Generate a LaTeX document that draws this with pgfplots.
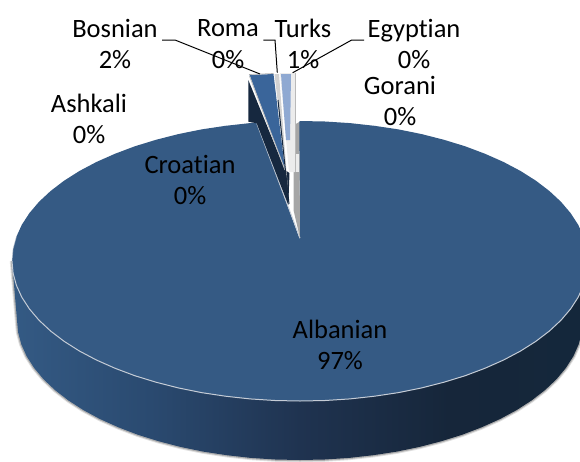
\documentclass[border=0pt]{standalone}
\usepackage{pgfplots}
\usepackage{pgfplotstable}
\usepackage{fontspec}
\setmainfont{Carlito}
\pgfplotsset{compat=1.18}
\definecolor{topc}{HTML}{355A84}
\definecolor{slice}{HTML}{3A659A}
\definecolor{darkc}{HTML}{16283F}
\definecolor{lightb}{HTML}{8FA9D2}
\definecolor{rim}{HTML}{C5CCD6}
\pgfdeclarehorizontalshading{wall}{100bp}{
 rgb(0bp)=(0.204,0.353,0.518);
 rgb(25bp)=(0.204,0.353,0.518);
 rgb(37bp)=(0.165,0.290,0.439);
 rgb(50bp)=(0.122,0.200,0.314);
 rgb(63bp)=(0.086,0.149,0.227);
 rgb(75bp)=(0.078,0.153,0.231);
 rgb(100bp)=(0.078,0.153,0.231)}
\pgfplotstableread{
x y
588 261
586.9 273.2
583.6 285.3
578.2 297.2
570.6 308.9
561 320.2
549.4 331
535.9 341.3
520.6 351
503.6 360
485.1 368.2
465.2 375.7
444 382.2
421.7 387.9
398.5 392.6
374.5 396.2
350 398.9
325.1 400.5
300 401
274.9 400.5
250 398.9
225.5 396.2
201.5 392.6
178.3 387.9
156 382.2
134.8 375.7
114.9 368.2
96.4 360
79.4 351
64.1 341.3
50.6 331
39 320.2
29.4 308.9
21.8 297.2
16.4 285.3
13.1 273.2
12 261
}\topfront
\pgfplotstableread{
x y
588 261
583 320
581.9 332.2
578.7 344.3
573.4 356.2
565.9 367.9
556.5 379.2
545.1 390
531.8 400.3
516.8 410
500.1 419
481.9 427.2
462.3 434.7
441.5 441.2
419.6 446.9
396.8 451.6
373.2 455.2
349.1 457.9
324.7 459.5
300 460
275.3 459.5
250.9 457.9
226.8 455.2
203.2 451.6
180.4 446.9
158.5 441.2
137.7 434.7
118.1 427.2
99.9 419
83.2 410
68.2 400.3
54.9 390
43.5 379.2
34.1 367.9
26.6 356.2
21.3 344.3
18.1 332.2
17 320
12 261
}\lowerfront
\begin{document}
\begin{tikzpicture}
\useasboundingbox (0,0) rectangle (580pt,461pt);
\begin{axis}[at={(0,0)},anchor=south west,width=580pt,height=461pt,scale only axis,
 xmin=0,xmax=580,ymin=0,ymax=461,y dir=reverse,hide axis,enlargelimits=false,
 every axis plot/.append style={no markers}]
% soft shadow
\addplot[black,opacity=0.12,line width=4.5pt] table {\lowerfront};
\addplot[black,opacity=0.22,line width=2.5pt] table {\lowerfront};
% wall
\addplot[shade,shading=wall,draw=none] table {\lowerfront} --cycle;
% top face of the Albanian slice
\addplot[fill=topc,draw=none] coordinates {
(300,240) (299,122) (300,121) (325.1,121.5) (350,123.1) (374.5,125.8) (398.5,129.4) (421.7,134.1) (444,139.8) (465.2,146.3) (485.1,153.8) (503.6,162) (520.6,171) (535.9,180.7) (549.4,191) (561,201.8) (570.6,213.1) (578.2,224.8) (583.6,236.7) (586.9,248.8) (588,261)
(586.9,273.2) (583.6,285.3) (578.2,297.2) (570.6,308.9) (561,320.2) (549.4,331) (535.9,341.3) (520.6,351) (503.6,360) (485.1,368.2) (465.2,375.7) (444,382.2) (421.7,387.9) (398.5,392.6) (374.5,396.2) (350,398.9) (325.1,400.5) (300,401) (274.9,400.5) (250,398.9) (225.5,396.2) (201.5,392.6) (178.3,387.9) (156,382.2) (134.8,375.7) (114.9,368.2) (96.4,360) (79.4,351) (64.1,341.3) (50.6,331) (39,320.2) (29.4,308.9) (21.8,297.2) (16.4,285.3) (13.1,273.2) (12,261)
(13.1,248.8) (16.4,236.7) (21.8,224.8) (29.4,213.1) (39,201.8) (50.6,191) (64.1,180.7) (79.4,171) (96.4,162) (114.9,153.8) (134.8,146.3) (156,139.8) (178.3,134.1) (201.5,129.4) (225.5,125.8) (250,123.1) (257,122.5)
} --cycle;
% rim
\addplot[rim,line width=1pt] table {\topfront};
\addplot[rim,opacity=0.5,line width=0.8pt] coordinates {(12,261) (13.1,248.8) (16.4,236.7)};
\addplot[rim,line width=0.9pt] coordinates {(256.7,123.3) (300,238)};
% grey inner wall
\addplot[fill=gray!70,draw=none] coordinates {(294,125) (299.3,122) (300,238) (293.5,210)} --cycle;
\addplot[fill=gray!15,draw=none] coordinates {(295,154) (299,154) (299,172) (295,172)} --cycle;
% dark side of Bosnian
\addplot[fill=darkc,draw=none] coordinates {(248.3,80) (248.3,121.7) (256.7,123.3) (288.3,205) (289.5,173) (285,170)} --cycle;
% Bosnian top
\addplot[fill=slice,draw=none] coordinates {(249.5,75) (273.5,74) (285,170)} --cycle;
\addplot[gray!50,line width=0.9pt] coordinates {(249.5,76) (285,170)};
\addplot[gray!60,line width=0.7pt] coordinates {(249,74.5) (273.5,73.5)};
% Roma
\addplot[fill=gray!35,draw=none] coordinates {(274.5,74) (279,74) (288,190)} --cycle;
\addplot[darkc,line width=1pt] coordinates {(278,100) (289,204)};
% Turks
\addplot[fill=gray!15,draw=none] coordinates {(280,73) (295,73) (295,172) (289,172)} --cycle;
\addplot[fill=lightb,draw=none] coordinates {(281,74) (291,74) (290,140) (286,140)} --cycle;
\addplot[gray!55,line width=0.5pt] coordinates {(295,73) (295,172)};
% leaders
\addplot[black,line width=1pt] coordinates {(162,40) (175,40) (260,74)};
\addplot[black,line width=1pt] coordinates {(263.3,40) (275,40) (277.3,72.7)};
\addplot[black,line width=1pt] coordinates {(364,40) (351.7,40) (292.7,72.7)};
% labels
\tikzset{lab/.style={align=center,inner sep=0pt,font=\fontsize{26.5}{31.5}\selectfont,text=black}}
\node[lab] at (axis cs:115,44) {Bosnian\\2\%};
\node[lab] at (axis cs:228,44) {Roma\\0\%};
\node[lab] at (axis cs:303,44) {Turks\\1\%};
\node[lab] at (axis cs:414,44) {Egypt\kern0pt ian\\0\%};
\node[lab] at (axis cs:400,101) {Gorani\\0\%};
\node[lab] at (axis cs:89,119) {Ashkali\\0\%};
\node[lab] at (axis cs:190,180) {Croat\kern0pt ian\\0\%};
\node[lab] at (axis cs:340,345) {Albanian\\97\%};
\end{axis}
\end{tikzpicture}
\end{document}
